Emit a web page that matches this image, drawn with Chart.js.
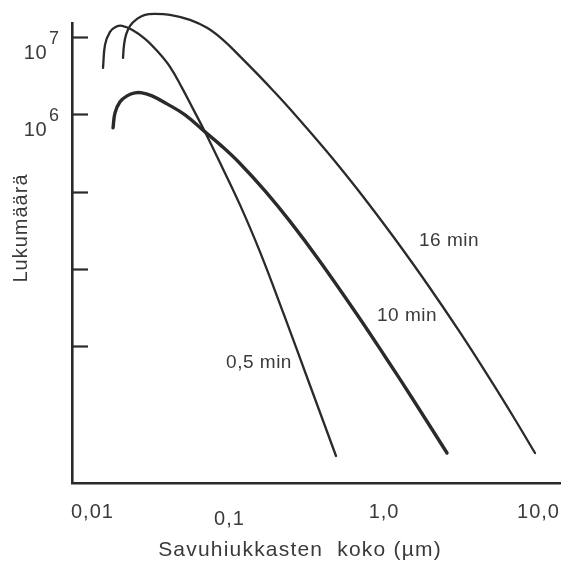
<!DOCTYPE html>
<html>
<head>
<meta charset="utf-8">
<script src="https://cdn.jsdelivr.net/npm/chart.js@4.4.0/dist/chart.umd.min.js"></script>
<style>
  html, body { margin: 0; padding: 0; background: #ffffff; }
  #wrap { width: 565px; height: 561px; position: relative; }
</style>
</head>
<body>
<div id="wrap"><canvas id="c"></canvas></div>
<script>
// ---- data ----
const size05  = [0.01518, 0.01564, 0.01684, 0.01842, 0.02015, 0.02338, 0.02838, 0.03394, 0.04119, 0.04927, 0.05805, 0.06940, 0.08943, 0.1169, 0.1575, 0.2253, 0.3222, 0.4890];
const count05 = [3.97e6, 7.88e6, 1.16e7, 1.347e7, 1.388e7, 1.232e7, 9.42e6, 6.59e6, 4.09e6, 2.189e6, 1.171e6, 5.90e5, 2.081e5, 6.71e4, 1.654e4, 2533, 365.3, 38];

const size10  = [0.01762, 0.01815, 0.01956, 0.02171, 0.02445, 0.02715, 0.03151, 0.03939, 0.05152, 0.06940, 0.08943, 0.1169, 0.1697, 0.2463, 0.3852, 0.6687, 1.015, 1.541, 2.557];
const count10 = [6.65e5, 1.039e6, 1.443e6, 1.725e6, 1.886e6, 1.886e6, 1.725e6, 1.359e6, 9.79e5, 5.90e5, 3.832e5, 2.302e5, 1.018e5, 4.104e4, 1.246e4, 2571, 735.8, 204.4, 41.5];

const size16  = [0.02045, 0.02076, 0.02138, 0.02270, 0.02520, 0.02838, 0.03294, 0.04119, 0.05549, 0.07151, 0.09075, 0.1169, 0.1507, 0.1912, 0.2463, 0.4028, 0.5594, 0.7762, 1.178, 1.927, 3.104, 4.855, 6.839, 9.49];
const count16 = [5.35e6, 7.88e6, 1.061e7, 1.388e7, 1.709e7, 1.926e7, 1.985e7, 1.926e7, 1.659e7, 1.307e7, 9.15e6, 5.594e6, 3.34e6, 2.026e6, 1.164e6, 3.753e5, 1.694e5, 7.38e4, 2.43e4, 6134, 1504, 374.3, 124, 41.5];

const xTickValues = [0.01, 0.1, 1, 10];
const xTickLabels = ['0,01', '0,1', '1,0', '10,0'];
const yTickValues = [1e3, 1e4, 1e5, 1e6, 1e7];
const yLabelValues = [1e7, 1e6];
const yLabelExponents = ['7', '6'];

const seriesNames = ['0,5 min', '10 min', '16 min'];
const seriesLabelX = [0.1552, 1.409, 2.635];
const seriesLabelY = [606, 2459, 2.296e4];

const xTitle = 'Savuhiukkasten  koko (\u00b5m)';
const yTitle = 'Lukum\u00e4\u00e4r\u00e4';

// ---- styling ----
const INK = '#2a2a2a';
const TEXT = '#3a3a3a';
const FONT = '"Liberation Sans", Arial, Helvetica, sans-serif';

function pts(xs, ys) { return xs.map((x, i) => ({ x: x, y: ys[i] })); }

function setSpacing(ctx, px) { if ('letterSpacing' in ctx) ctx.letterSpacing = px + 'px'; }

const decor = {
  id: 'decor',
  afterDraw(chart) {
    const ctx = chart.ctx;
    const xs = chart.scales.x, ys = chart.scales.y;
    const area = chart.chartArea;
    ctx.save();
    // inward y ticks
    ctx.strokeStyle = INK;
    ctx.lineWidth = 2.2;
    yTickValues.forEach(v => {
      const py = Math.round(ys.getPixelForValue(v)) + 0.5;
      ctx.beginPath();
      ctx.moveTo(area.left, py);
      ctx.lineTo(area.left + 16, py);
      ctx.stroke();
    });
    ctx.fillStyle = TEXT;
    // y labels 10^n
    yLabelValues.forEach((v, i) => {
      const py = ys.getPixelForValue(v);
      setSpacing(ctx, 0.5);
      ctx.font = '20px ' + FONT;
      ctx.textAlign = 'right';
      ctx.textBaseline = 'alphabetic';
      ctx.fillText('10', 47, py + 22);
      ctx.font = '18px ' + FONT;
      ctx.textAlign = 'left';
      ctx.fillText(yLabelExponents[i], 49, py + 7);
    });
    // x labels
    ctx.font = '20px ' + FONT;
    setSpacing(ctx, 1);
    ctx.textBaseline = 'alphabetic';
    xTickValues.forEach((v, i) => {
      const px = xs.getPixelForValue(v);
      if (i === 0) {
        ctx.textAlign = 'left';
        ctx.fillText(xTickLabels[i], area.left - 1, 518);
      } else {
        ctx.textAlign = 'center';
        ctx.fillText(xTickLabels[i], px, i === 1 ? 525 : 518);
      }
    });
    // x title
    ctx.font = '21px ' + FONT;
    setSpacing(ctx, 1.2);
    ctx.textAlign = 'center';
    ctx.fillText(xTitle, 300, 556);
    // y title
    ctx.save();
    ctx.translate(27, 228);
    ctx.rotate(-Math.PI / 2);
    ctx.font = '20px ' + FONT;
    setSpacing(ctx, 1);
    ctx.textAlign = 'center';
    ctx.fillText(yTitle, 0, 0);
    ctx.restore();
    // series labels
    ctx.font = '19px ' + FONT;
    setSpacing(ctx, 0.5);
    ctx.textAlign = 'center';
    ctx.textBaseline = 'middle';
    seriesNames.forEach((n, i) => {
      ctx.fillText(n, xs.getPixelForValue(seriesLabelX[i]), ys.getPixelForValue(seriesLabelY[i]));
    });
    ctx.restore();
  }
};

const lineBase = {
  borderColor: INK,
  pointRadius: 0,
  pointHoverRadius: 0,
  tension: 0.4,
  borderCapStyle: 'round',
  borderJoinStyle: 'round',
  fill: false,
  clip: false
};

new Chart(document.getElementById('c'), {
  type: 'line',
  data: {
    datasets: [
      Object.assign({ label: seriesNames[0], data: pts(size05, count05), borderWidth: 2.3 }, lineBase),
      Object.assign({ label: seriesNames[1], data: pts(size10, count10), borderWidth: 3.4 }, lineBase),
      Object.assign({ label: seriesNames[2], data: pts(size16, count16), borderWidth: 2.3 }, lineBase)
    ]
  },
  options: {
    responsive: true,
    maintainAspectRatio: false,
    devicePixelRatio: 1,
    animation: false,
    events: [],
    layout: { padding: { left: 72, right: 5, top: 23, bottom: 78 } },
    plugins: { legend: { display: false }, tooltip: { enabled: false }, title: { display: false } },
    scales: {
      x: {
        type: 'logarithmic',
        min: 0.00956,
        max: 13.77,
        grid: { display: false, drawTicks: false },
        border: { display: true, color: INK, width: 2.6 },
        ticks: { display: false }
      },
      y: {
        type: 'logarithmic',
        min: 17,
        max: 1.51e7,
        grid: { display: false, drawTicks: false },
        border: { display: true, color: INK, width: 2.6 },
        ticks: { display: false }
      }
    }
  },
  plugins: [decor]
});
</script>
</body>
</html>
